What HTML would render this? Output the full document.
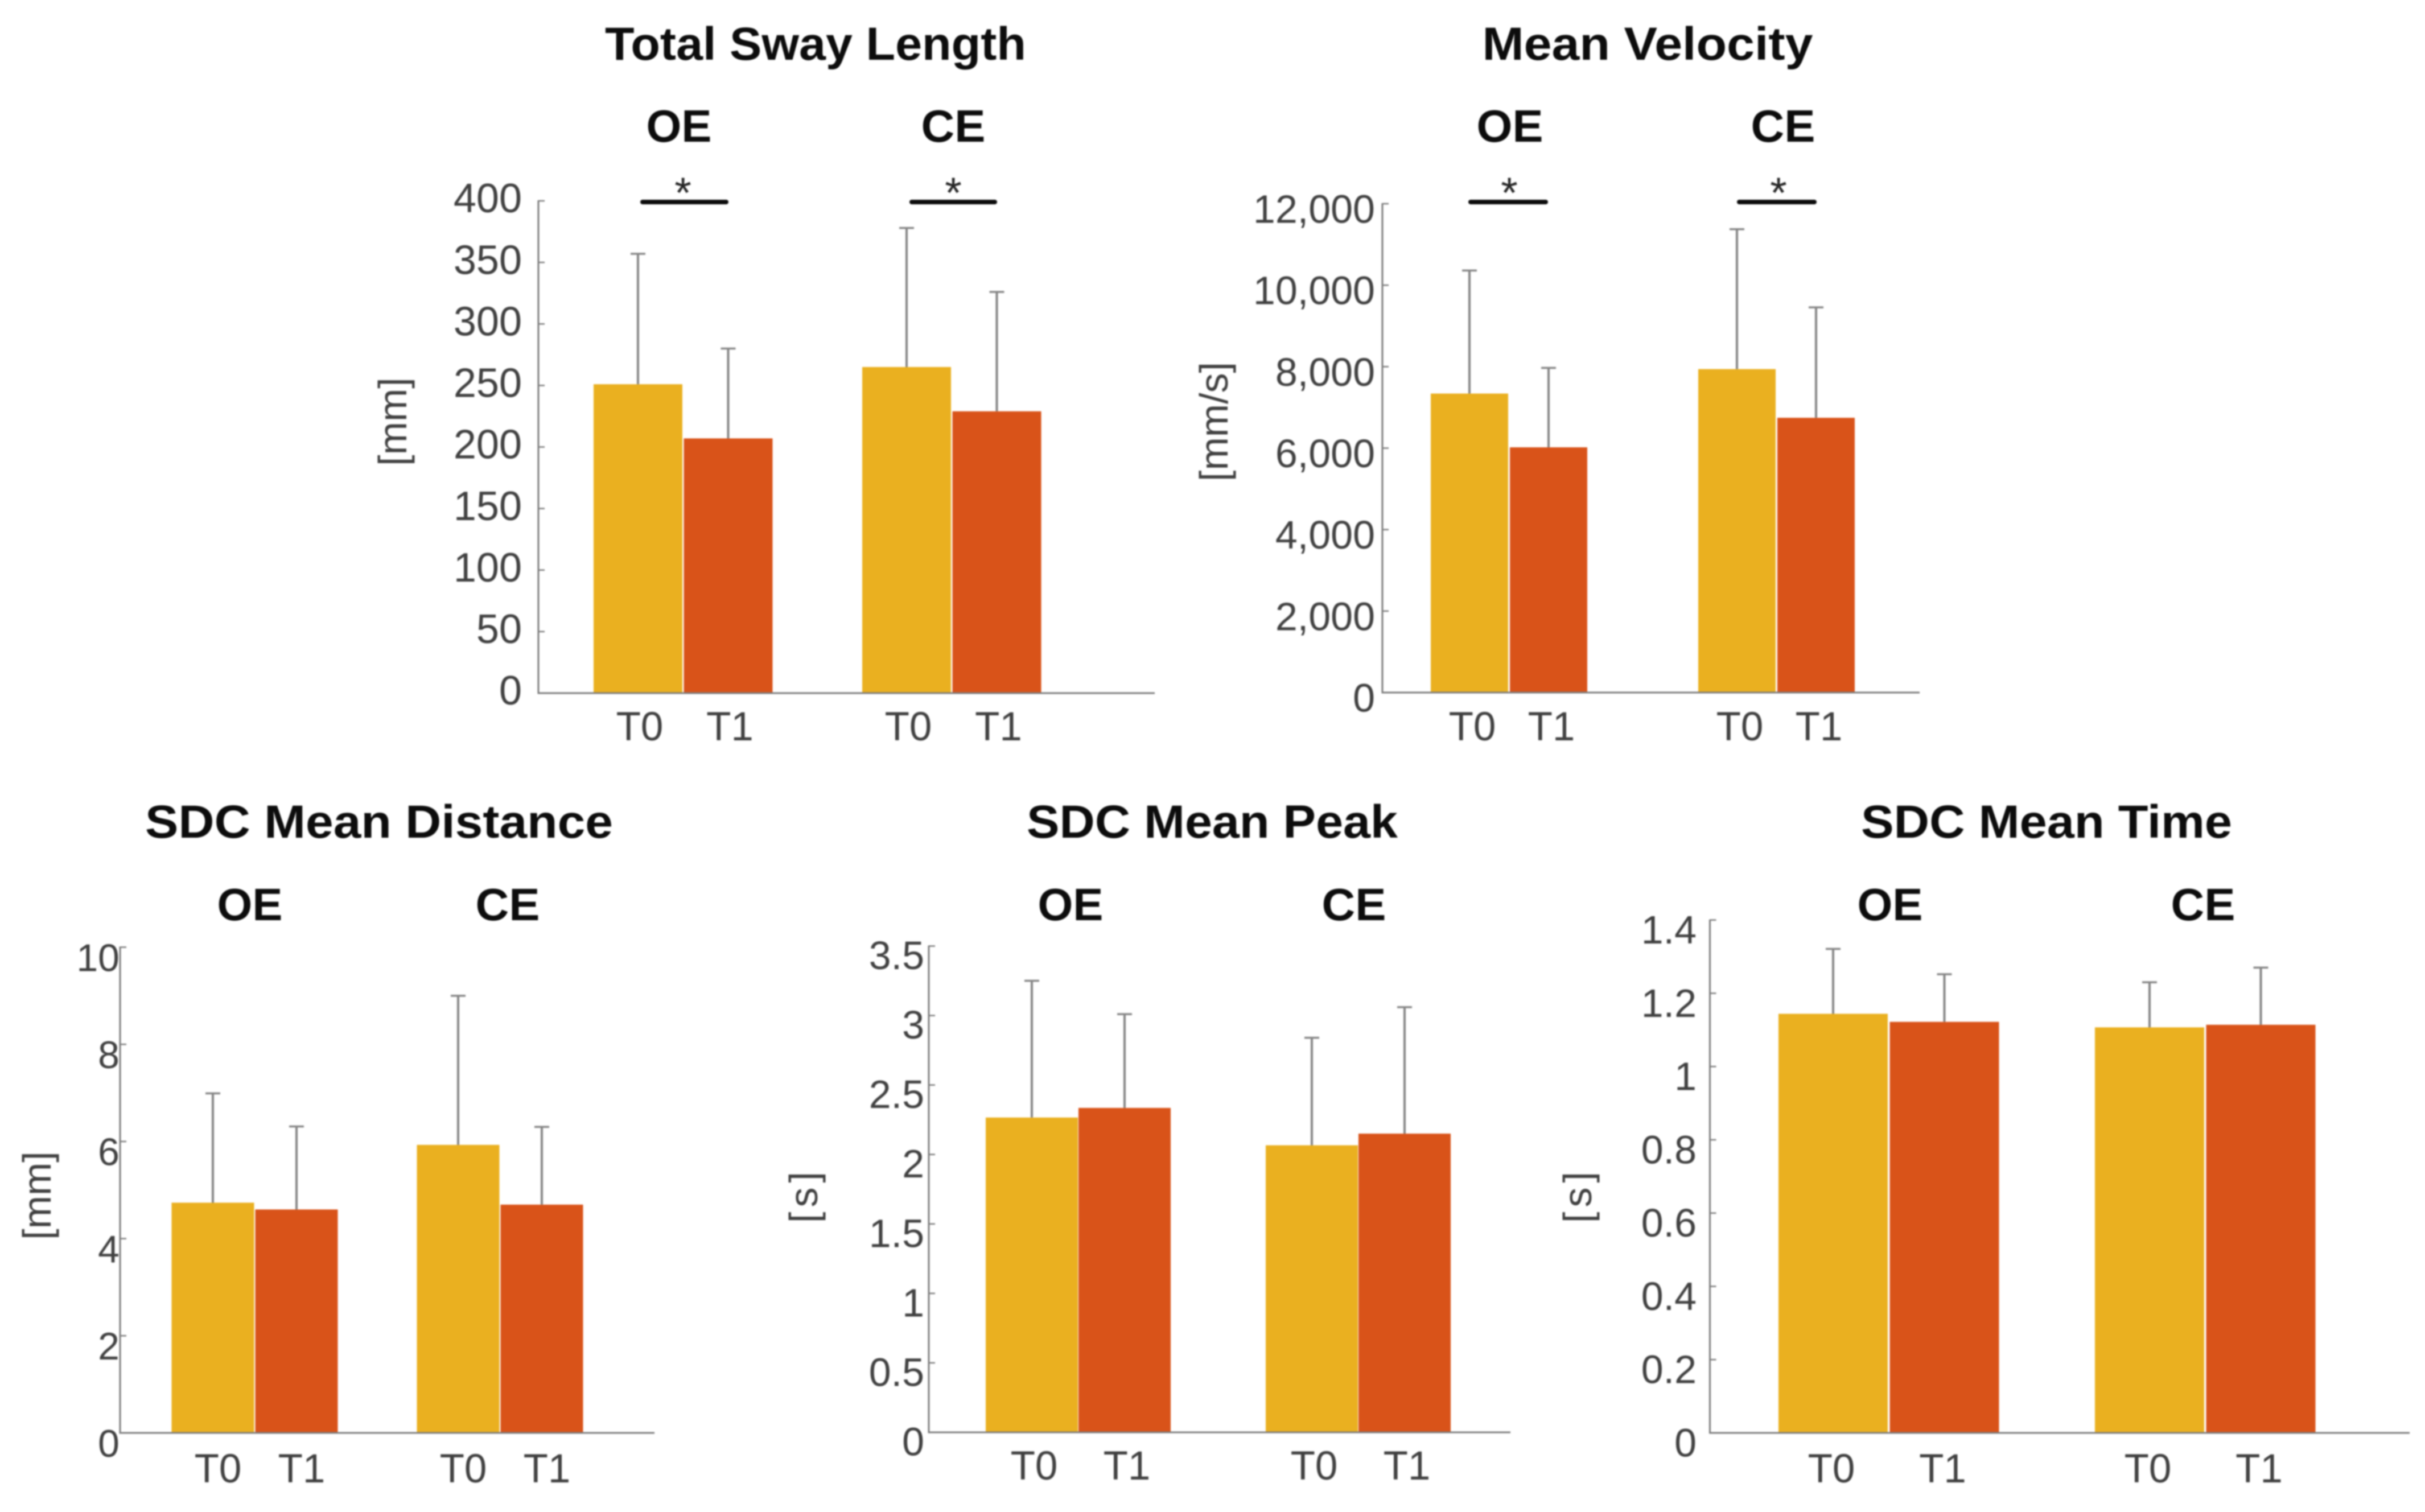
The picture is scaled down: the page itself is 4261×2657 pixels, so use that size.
<!DOCTYPE html>
<html lang="en">
<head>
<meta charset="utf-8">
<title>Postural sway and SDC bar charts</title>
<style>
  html, body { margin: 0; padding: 0; background: #fff; }
  svg { display: block; filter: blur(1.2px); }
  text { font-family: "Liberation Sans", sans-serif; }
  .title { font-weight: 700; font-size: 82px; fill: #0c0c0c; text-anchor: middle; }
  .group { font-weight: 700; font-size: 80px; fill: #0c0c0c; text-anchor: middle; }
  .ylab { font-size: 70px; fill: #404040; text-anchor: middle; }
  .star { font-size: 76px; fill: #262626; text-anchor: middle; }
  .sig { stroke: #0a0a0a; stroke-width: 8; stroke-linecap: round; }
</style>
</head>
<body>
<svg id="figure" xmlns="http://www.w3.org/2000/svg" width="4261" height="2657" viewBox="0 0 4261 2657">
  <rect x="0" y="0" width="4261" height="2657" fill="#ffffff"/>

  <g id="chart-sway">
    <text class="title" x="1433" y="105" textLength="740" lengthAdjust="spacingAndGlyphs">Total Sway Length</text>
    <text class="group" x="1193" y="249" textLength="115" lengthAdjust="spacingAndGlyphs">OE</text>
    <text class="group" x="1675" y="249" textLength="113" lengthAdjust="spacingAndGlyphs">CE</text>
    <line class="sig" x1="1129" y1="355" x2="1276" y2="355"/>
    <line class="sig" x1="1602" y1="355" x2="1748" y2="355"/>
    <text class="star" x="1200" y="365">*</text>
    <text class="star" x="1675" y="365">*</text>
    <text class="ylab" transform="translate(714 741) rotate(-90)">[mm]</text>
  </g>

  <g id="chart-velocity">
    <text class="title" x="2895" y="105" textLength="581" lengthAdjust="spacingAndGlyphs">Mean Velocity</text>
    <text class="group" x="2653" y="249" textLength="117" lengthAdjust="spacingAndGlyphs">OE</text>
    <text class="group" x="3133" y="249" textLength="113" lengthAdjust="spacingAndGlyphs">CE</text>
    <line class="sig" x1="2584" y1="355" x2="2716" y2="355"/>
    <line class="sig" x1="3056" y1="355" x2="3188" y2="355"/>
    <text class="star" x="2652" y="365">*</text>
    <text class="star" x="3125" y="365">*</text>
    <text class="ylab" transform="translate(2157 741) rotate(-90)">[mm/s]</text>
  </g>

  <g id="chart-distance">
    <text class="title" x="666" y="1472" textLength="822" lengthAdjust="spacingAndGlyphs">SDC Mean Distance</text>
    <text class="group" x="439" y="1617" textLength="115" lengthAdjust="spacingAndGlyphs">OE</text>
    <text class="group" x="892" y="1617" textLength="113" lengthAdjust="spacingAndGlyphs">CE</text>
    <text class="ylab" transform="translate(89 2101) rotate(-90)">[mm]</text>
  </g>

  <g id="chart-peak">
    <text class="title" x="2130" y="1472" textLength="652" lengthAdjust="spacingAndGlyphs">SDC Mean Peak</text>
    <text class="group" x="1881" y="1617" textLength="115" lengthAdjust="spacingAndGlyphs">OE</text>
    <text class="group" x="2379" y="1617" textLength="113" lengthAdjust="spacingAndGlyphs">CE</text>
    <text class="ylab" transform="translate(1436 2100) rotate(-90)" letter-spacing="8">[s]</text>
  </g>

  <g id="chart-time">
    <text class="title" x="3596" y="1472" textLength="652" lengthAdjust="spacingAndGlyphs">SDC Mean Time</text>
    <text class="group" x="3321" y="1617" textLength="115" lengthAdjust="spacingAndGlyphs">OE</text>
    <text class="group" x="3871" y="1617" textLength="113" lengthAdjust="spacingAndGlyphs">CE</text>
    <text class="ylab" transform="translate(2796 2100) rotate(-90)" letter-spacing="8">[s]</text>
  </g>
</svg>

<script>
// Shared categories
const conditions = ['OE', 'CE'];
const sessions = ['T0', 'T1'];

// Total Sway Length [mm]
const swayTicks = [0, 50, 100, 150, 200, 250, 300, 350, 400];
const swayMeanT0 = [251, 265];
const swayMeanT1 = [207, 229];
const swayUpperT0 = [357, 378];
const swayUpperT1 = [280, 326];

// Mean Velocity [mm/s]
const velocityTicks = [0, 2000, 4000, 6000, 8000, 10000, 12000];
const velocityMeanT0 = [7340, 7940];
const velocityMeanT1 = [6020, 6745];
const velocityUpperT0 = [10360, 11375];
const velocityUpperT1 = [7970, 9455];

// SDC Mean Distance [mm]
const distanceTicks = [0, 2, 4, 6, 8, 10];
const distanceMeanT0 = [4.74, 5.93];
const distanceMeanT1 = [4.60, 4.70];
const distanceUpperT0 = [6.99, 9.0];
const distanceUpperT1 = [6.31, 6.30];

// SDC Mean Peak [s]
const peakTicks = [0, 0.5, 1, 1.5, 2, 2.5, 3, 3.5];
const peakMeanT0 = [2.266, 2.066];
const peakMeanT1 = [2.335, 2.15];
const peakUpperT0 = [3.25, 2.84];
const peakUpperT1 = [3.01, 3.06];

// SDC Mean Time [s]
const timeTicks = [0, 0.2, 0.4, 0.6, 0.8, 1, 1.2, 1.4];
const timeMeanT0 = [1.144, 1.107];
const timeMeanT1 = [1.122, 1.114];
const timeUpperT0 = [1.321, 1.230];
const timeUpperT1 = [1.252, 1.270];

const NS = 'http://www.w3.org/2000/svg';
const COLORS = ['#EAB020', '#D95319'];
const AXIS = '#7c7c7c';
const TEXT = '#404040';
const X_LABEL_SIZE = 71;

function svgEl(tag, attrs) {
  const el = document.createElementNS(NS, tag);
  for (const k in attrs) el.setAttribute(k, attrs[k]);
  return el;
}

function drawChart(cfg) {
  const g = document.getElementById(cfg.id);
  const yMax = cfg.ticks[cfg.ticks.length - 1];
  const yScale = v => cfg.base - (v / yMax) * (cfg.base - cfg.top);
  const barLeft = (c, s) => cfg.x0 + c * cfg.groupStep + s * cfg.step;
  const barCenter = (c, s) => barLeft(c, s) + cfg.barW / 2;

  const means = [cfg.meanT0, cfg.meanT1];
  const uppers = [cfg.upperT0, cfg.upperT1];

  conditions.forEach((cond, c) => {
    sessions.forEach((sess, s) => {
      const bar = svgEl('rect', {
        x: barLeft(c, s), y: yScale(means[s][c]), width: cfg.barW,
        height: cfg.base - yScale(means[s][c]), fill: COLORS[s]
      });
      
      
      g.appendChild(bar);

      const stem = svgEl('line', {
        x1: barCenter(c, s), x2: barCenter(c, s), y1: yScale(means[s][c]), y2: yScale(uppers[s][c]),
        stroke: '#858585', 'stroke-width': 4
      });
      
      
      g.appendChild(stem);

      const cap = svgEl('line', {
        x1: barCenter(c, s) - 13, x2: barCenter(c, s) + 13, y1: yScale(uppers[s][c]), y2: yScale(uppers[s][c]),
        stroke: '#858585', 'stroke-width': 3.5
      });
      
      
      g.appendChild(cap);

      const lab = svgEl('text', {
        x: barCenter(c, s) + cfg.labelDx, y: cfg.labelY + 25, 'font-size': X_LABEL_SIZE, fill: TEXT, 'text-anchor': 'middle'
      });
      
      
      lab.textContent = sess;
      g.appendChild(lab);
    });
  });

  const yAxis = svgEl('line', { x1: cfg.left, x2: cfg.left, y1: cfg.top - 1, y2: cfg.base + 1.5, stroke: AXIS, 'stroke-width': 3 });
  
  
  g.appendChild(yAxis);

  const xAxis = svgEl('line', { x1: cfg.left, x2: cfg.right, y1: cfg.base, y2: cfg.base, stroke: AXIS, 'stroke-width': 3 });
  
  
  g.appendChild(xAxis);

  cfg.ticks.forEach(t => {
    const y = yScale(t);
    const tick = svgEl('line', { x1: cfg.left, x2: cfg.left + 11, y1: y, y2: y, stroke: AXIS, 'stroke-width': 2.5 });
    
    
    g.appendChild(tick);

    const lab = svgEl('text', {
      x: cfg.tickRight, y: y + cfg.tickDy + cfg.tickSize * 0.35, 'font-size': cfg.tickSize,
      fill: TEXT, 'text-anchor': 'end'
    });
    
    
    lab.textContent = t.toLocaleString('en-US');
    g.appendChild(lab);
  });
}

drawChart({
  id: 'chart-sway', ticks: swayTicks, meanT0: swayMeanT0, meanT1: swayMeanT1, upperT0: swayUpperT0, upperT1: swayUpperT1,
  left: 946, right: 2029, top: 353, base: 1218,
  x0: 1043, barW: 156, step: 158.5, groupStep: 472,
  tickRight: 917, tickDy: -5, tickSize: 72, labelDx: 3, labelY: 1276
});
drawChart({
  id: 'chart-velocity', ticks: velocityTicks, meanT0: velocityMeanT0, meanT1: velocityMeanT1, upperT0: velocityUpperT0, upperT1: velocityUpperT1,
  left: 2429, right: 3373, top: 358, base: 1217,
  x0: 2514, barW: 136, step: 139, groupStep: 470,
  tickRight: 2416, tickDy: 9, tickSize: 70, labelDx: 5, labelY: 1276
});
drawChart({
  id: 'chart-distance', ticks: distanceTicks, meanT0: distanceMeanT0, meanT1: distanceMeanT1, upperT0: distanceUpperT0, upperT1: distanceUpperT1,
  left: 211, right: 1150, top: 1664.5, base: 2518,
  x0: 301.5, barW: 145, step: 147, groupStep: 431,
  tickRight: 210, tickDy: 18, tickSize: 68, labelDx: 9, labelY: 2580
});
drawChart({
  id: 'chart-peak', ticks: peakTicks, meanT0: peakMeanT0, meanT1: peakMeanT1, upperT0: peakUpperT0, upperT1: peakUpperT1,
  left: 1632, right: 2654, top: 1662.5, base: 2517,
  x0: 1732, barW: 162, step: 163, groupStep: 492,
  tickRight: 1624, tickDy: 16, tickSize: 70, labelDx: 4, labelY: 2575
});
drawChart({
  id: 'chart-time', ticks: timeTicks, meanT0: timeMeanT0, meanT1: timeMeanT1, upperT0: timeUpperT0, upperT1: timeUpperT1,
  left: 3004.5, right: 4234, top: 1616.7, base: 2518,
  x0: 3125, barW: 192, step: 195.5, groupStep: 556,
  tickRight: 2981, tickDy: 17, tickSize: 70, labelDx: -3, labelY: 2580
});
</script>
</body>
</html>
